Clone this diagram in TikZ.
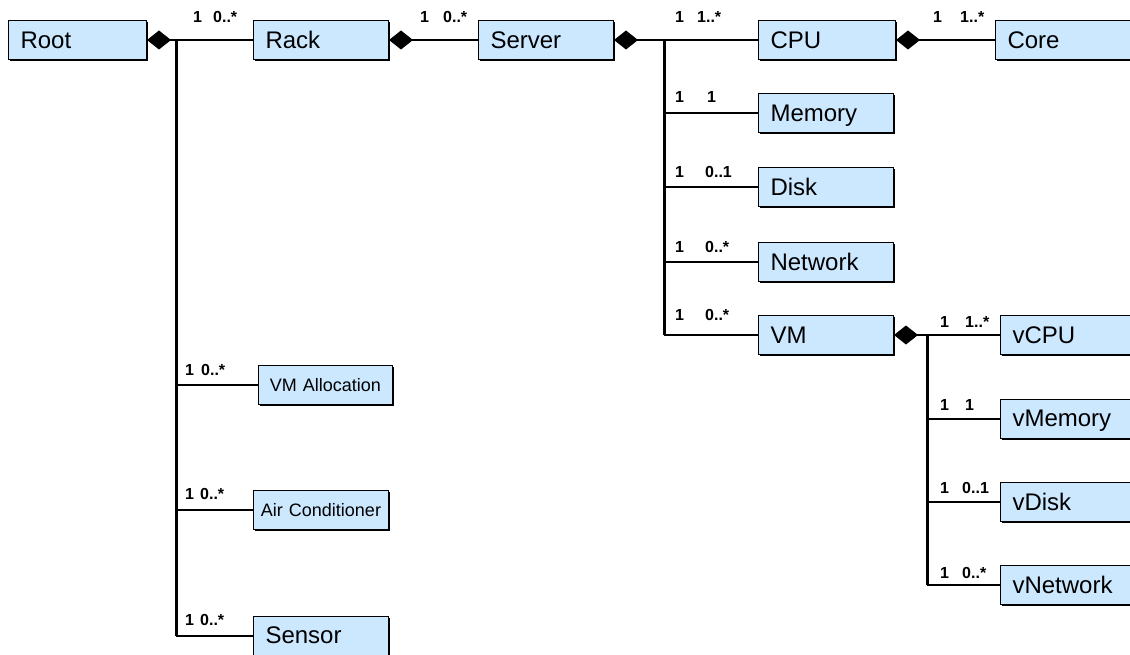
\documentclass[tikz,border=0pt]{standalone}
\usepackage{fontspec}
\setmainfont{Liberation Sans}
\usetikzlibrary{arrows.meta,shadows}
\definecolor{boxblue}{RGB}{204,232,255}
\newcommand\bigboxfont{\fontsize{24}{27}\selectfont}
\newcommand\smallboxfont{\fontsize{18}{21}\selectfont}
\newcommand\multfont{\fontsize{16}{18}\selectfont\bfseries}
\begin{document}
\begin{tikzpicture}[x=1pt,y=-1pt,
  box/.style={rectangle, draw=black, line width=1pt, fill=boxblue, anchor=west,
    minimum height=39pt, inner xsep=12pt, inner ysep=0pt, text width=111pt,
    align=left, font=\bigboxfont, text height=16.5pt, text depth=0pt,
    drop shadow={shadow xshift=1.5pt, shadow yshift=-1.5pt, fill=black, opacity=1}},
  smallbox/.style={box, inner xsep=4pt, text width=127pt, align=center,
    font=\smallboxfont, text height=13pt},
  link/.style={line width=2pt},
  trunk/.style={line width=3pt},
  comp/.style={link, {Diamond[length=24pt,width=19pt]}-},
  mult/.style={anchor=base west, inner sep=0pt, font=\multfont}
]
\clip (0,0) rectangle (1130,655);
\fill[white] (0,0) rectangle (1130,655);

% boxes
\node[box, text width=114pt] (root) at (8,40) {Root};
\node[box] (rack) at (253,40) {Rack};
\node[box] (server) at (478,40) {Server};
\node[box, text width=113pt] (cpu) at (758,40) {CPU};
\node[box] (core) at (995,40) {Core};
\node[box] (memory) at (758,113) {Memory};
\node[box] (disk) at (758,187.5) {Disk};
\node[box] (network) at (758,262) {Network};
\node[box] (vm) at (758,335) {VM};
\node[box] (vcpu) at (1000,335) {vCPU};
\node[box] (vmemory) at (1000,418.5) {vMemory};
\node[box] (vdisk) at (1000,502) {vDisk};
\node[box] (vnetwork) at (1000,585) {vNetwork};
\node[smallbox, text width=126pt] (vmalloc) at (258,385) {VM Allocation};
\node[smallbox] (aircond) at (253,510) {Air Conditioner};
\node[box] (sensor) at (253,635.5) {Sensor};

% junctions
\coordinate (j1) at (176,40);
\coordinate (j2) at (664,40);
\coordinate (j3) at (927,335);

% connectors
\draw[comp] (root.east) -- (j1);
\draw[link] (j1) -- (rack.west);
\draw[trunk] (j1) -- (j1 |- sensor.west);
\draw[link] (j1 |- vmalloc.west) -- (vmalloc.west);
\draw[link] (j1 |- aircond.west) -- (aircond.west);
\draw[link] (j1 |- sensor.west) -- (sensor.west);

\draw[comp] (rack.east) -- (server.west);

\draw[comp] (server.east) -- (j2);
\draw[link] (j2) -- (cpu.west);
\draw[trunk] (j2) -- (j2 |- vm.west);
\draw[link] (j2 |- memory.west) -- (memory.west);
\draw[link] (j2 |- disk.west) -- (disk.west);
\draw[link] (j2 |- network.west) -- (network.west);
\draw[link] (j2 |- vm.west) -- (vm.west);

\draw[comp] (cpu.east) -- (core.west);

\draw[comp] (vm.east) -- (j3);
\draw[link] (j3) -- (vcpu.west);
\draw[trunk] (j3) -- (j3 |- vnetwork.west);
\draw[link] (j3 |- vmemory.west) -- (vmemory.west);
\draw[link] (j3 |- vdisk.west) -- (vdisk.west);
\draw[link] (j3 |- vnetwork.west) -- (vnetwork.west);

% multiplicities
\node[mult] (m1a) at (193,23) {1};   \node[mult] (m1b) at (213,23) {0..*};
\node[mult] (m2a) at (420,23) {1};   \node[mult] (m2b) at (443,23) {0..*};
\node[mult] (m3a) at (675,23) {1};   \node[mult] (m3b) at (697,23) {1..*};
\node[mult] (m4a) at (933,23) {1};   \node[mult] (m4b) at (960,23) {1..*};
\node[mult] (m5a) at (675,103) {1};  \node[mult] (m5b) at (707,103) {1};
\node[mult] (m6a) at (675,178) {1};  \node[mult] (m6b) at (705,178) {0..1};
\node[mult] (m7a) at (675,252) {1};  \node[mult] (m7b) at (705,252) {0..*};
\node[mult] (m8a) at (675,320) {1};  \node[mult] (m8b) at (705,320) {0..*};
\node[mult] (m9a) at (940,327) {1};  \node[mult] (m9b) at (965,327) {1..*};
\node[mult] (m10a) at (940,410) {1}; \node[mult] (m10b) at (965,410) {1};
\node[mult] (m11a) at (940,493) {1}; \node[mult] (m11b) at (962,493) {0..1};
\node[mult] (m12a) at (940,578) {1}; \node[mult] (m12b) at (962,578) {0..*};
\node[mult] (m13a) at (185,375) {1}; \node[mult] (m13b) at (201,375) {0..*};
\node[mult] (m14a) at (185,499) {1}; \node[mult] (m14b) at (200,499) {0..*};
\node[mult] (m15a) at (185,625) {1}; \node[mult] (m15b) at (200,625) {0..*};
\end{tikzpicture}
\end{document}
